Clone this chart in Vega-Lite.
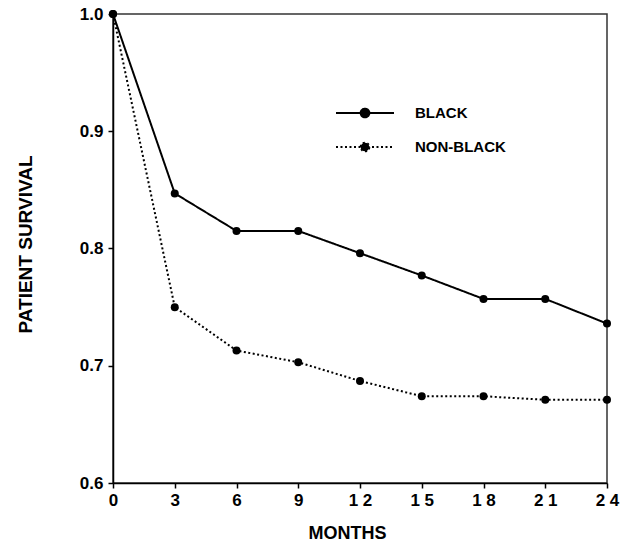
{
  "$schema": "https://vega.github.io/schema/vega-lite/v6.json",
  "width": 494,
  "height": 469,
  "autosize": "none",
  "padding": {"left": 113, "top": 14, "right": 19, "bottom": 69},
  "background": "white",
  "config": {
    "view": {"stroke": "#333", "strokeWidth": 1.5},
    "font": "Liberation Sans",
    "axis": {
      "domainColor": "black",
      "domainWidth": 1.5,
      "tickColor": "black",
      "tickWidth": 1.5,
      "tickSize": 5,
      "grid": false,
      "labelFlush": false,
      "labelFont": "Liberation Sans",
      "labelFontWeight": "bold",
      "labelFontSize": 17,
      "labelColor": "black",
      "titleFont": "Liberation Sans",
      "titleFontWeight": "bold",
      "titleFontSize": 18,
      "titleColor": "black"
    }
  },
  "data": {
    "values": [
      {"month": 0, "survival": 1.0, "group": "BLACK"},
      {"month": 3, "survival": 0.847, "group": "BLACK"},
      {"month": 6, "survival": 0.815, "group": "BLACK"},
      {"month": 9, "survival": 0.815, "group": "BLACK"},
      {"month": 12, "survival": 0.796, "group": "BLACK"},
      {"month": 15, "survival": 0.777, "group": "BLACK"},
      {"month": 18, "survival": 0.757, "group": "BLACK"},
      {"month": 21, "survival": 0.757, "group": "BLACK"},
      {"month": 24, "survival": 0.736, "group": "BLACK"},
      {"month": 0, "survival": 1.0, "group": "NON-BLACK"},
      {"month": 3, "survival": 0.750, "group": "NON-BLACK"},
      {"month": 6, "survival": 0.713, "group": "NON-BLACK"},
      {"month": 9, "survival": 0.703, "group": "NON-BLACK"},
      {"month": 12, "survival": 0.687, "group": "NON-BLACK"},
      {"month": 15, "survival": 0.674, "group": "NON-BLACK"},
      {"month": 18, "survival": 0.674, "group": "NON-BLACK"},
      {"month": 21, "survival": 0.671, "group": "NON-BLACK"},
      {"month": 24, "survival": 0.671, "group": "NON-BLACK"}
    ]
  },
  "encoding": {
    "x": {
      "field": "month",
      "type": "quantitative",
      "scale": {"domain": [0, 24], "nice": false, "zero": false},
      "axis": {
        "values": [0, 3, 6, 9, 12, 15, 18, 21, 24],
        "title": "MONTHS",
        "labelPadding": 4,
        "titleX": 234,
        "titleY": 50,
        "titleBaseline": "middle",
        "titleAlign": "center",
        "labelExpr": "datum.value < 10 ? datum.label : substring(datum.label, 0, 1) + ' ' + substring(datum.label, 1, 2)"
      }
    },
    "y": {
      "field": "survival",
      "type": "quantitative",
      "scale": {"domain": [0.6, 1.0], "nice": false, "zero": false},
      "axis": {
        "values": [0.6, 0.7, 0.8, 0.9, 1.0],
        "format": ".1f",
        "title": "PATIENT SURVIVAL",
        "titleFontSize": 19,
        "labelPadding": 5,
        "titleX": -88,
        "titleY": 230,
        "titleAngle": -90,
        "titleBaseline": "middle",
        "titleAlign": "center"
      }
    }
  },
  "layer": [
    {
      "mark": {"type": "line", "color": "black", "strokeWidth": 2},
      "encoding": {
        "strokeDash": {
          "field": "group",
          "type": "nominal",
          "scale": {"domain": ["BLACK", "NON-BLACK"], "range": [[1, 0], [2, 2.5]]},
          "legend": {
            "orient": "none",
            "legendX": 241,
            "legendY": 88,
            "padding": 0,
            "title": null,
            "symbolType": "M-3,0H3M-0.45,0A0.45,0.45 0 1,1 0.45,0A0.45,0.45 0 1,1 -0.45,0Z",
            "symbolSize": 374,
            "symbolStrokeColor": "black",
            "symbolFillColor": "black",
            "symbolStrokeWidth": 2,
            "labelFont": "Liberation Sans",
            "labelFontWeight": "bold",
            "labelFontSize": 15,
            "labelColor": "black",
            "labelOffset": 39,
            "rowPadding": 14
          }
        }
      }
    },
    {
      "mark": {"type": "circle", "color": "black", "opacity": 1, "size": 64}
    }
  ]
}
